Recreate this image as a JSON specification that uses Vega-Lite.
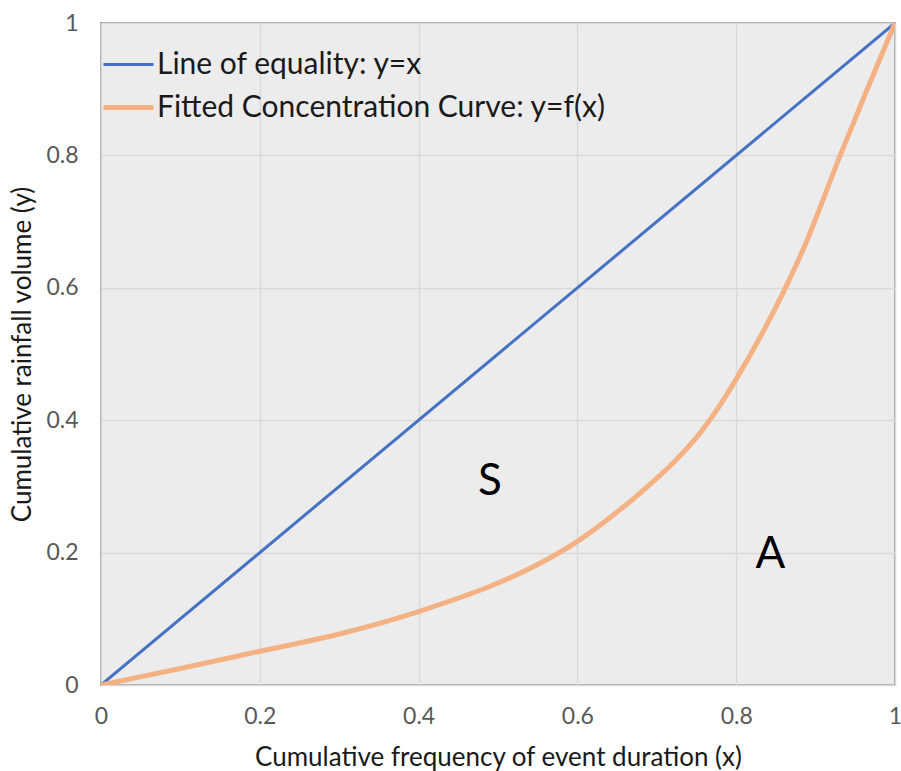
{
  "$schema": "https://vega.github.io/schema/vega-lite/v6.json",
  "width": 794,
  "height": 662,
  "autosize": "none",
  "padding": {"left": 101, "top": 23, "right": 6, "bottom": 86},
  "background": "white",
  "config": {
    "font": "Lato",
    "view": {"fill": "#ececec", "stroke": "#a6a6a6", "strokeWidth": 2},
    "axis": {
      "grid": true,
      "gridColor": "#d9d9d9",
      "gridWidth": 1.5,
      "ticks": false,
      "domain": false,
      "labelColor": "#595959",
      "labelFontSize": 23,
      "labelOverlap": false,
      "labelFlush": false,
      "titleColor": "#1a1a1a",
      "titleFontSize": 26,
      "titleFontWeight": "normal",
      "format": "~g"
    },
    "axisX": {"labelPadding": 20, "titlePadding": 16},
    "axisY": {"labelPadding": 23, "titlePadding": 10}
  },
  "datasets": {
    "curves": [
      {"series": "Line of equality: y=x", "x": 0, "y": 0},
      {"series": "Line of equality: y=x", "x": 1, "y": 1},
      {"series": "Fitted Concentration Curve: y=f(x)", "x": 0, "y": 0},
      {"series": "Fitted Concentration Curve: y=f(x)", "x": 0.1, "y": 0.025},
      {"series": "Fitted Concentration Curve: y=f(x)", "x": 0.2, "y": 0.051},
      {"series": "Fitted Concentration Curve: y=f(x)", "x": 0.3, "y": 0.077},
      {"series": "Fitted Concentration Curve: y=f(x)", "x": 0.4, "y": 0.111},
      {"series": "Fitted Concentration Curve: y=f(x)", "x": 0.5, "y": 0.154},
      {"series": "Fitted Concentration Curve: y=f(x)", "x": 0.55, "y": 0.182},
      {"series": "Fitted Concentration Curve: y=f(x)", "x": 0.6, "y": 0.217},
      {"series": "Fitted Concentration Curve: y=f(x)", "x": 0.64, "y": 0.252},
      {"series": "Fitted Concentration Curve: y=f(x)", "x": 0.679, "y": 0.29},
      {"series": "Fitted Concentration Curve: y=f(x)", "x": 0.721, "y": 0.336},
      {"series": "Fitted Concentration Curve: y=f(x)", "x": 0.75, "y": 0.374},
      {"series": "Fitted Concentration Curve: y=f(x)", "x": 0.769, "y": 0.404},
      {"series": "Fitted Concentration Curve: y=f(x)", "x": 0.8, "y": 0.462},
      {"series": "Fitted Concentration Curve: y=f(x)", "x": 0.834, "y": 0.534},
      {"series": "Fitted Concentration Curve: y=f(x)", "x": 0.862, "y": 0.6},
      {"series": "Fitted Concentration Curve: y=f(x)", "x": 0.884, "y": 0.657},
      {"series": "Fitted Concentration Curve: y=f(x)", "x": 0.931, "y": 0.8},
      {"series": "Fitted Concentration Curve: y=f(x)", "x": 0.965, "y": 0.9},
      {"series": "Fitted Concentration Curve: y=f(x)", "x": 1, "y": 1}
    ],
    "labels": [
      {"label": "S", "x": 0.49, "y": 0.306},
      {"label": "A", "x": 0.843, "y": 0.197}
    ]
  },
  "layer": [
    {
      "data": {"name": "curves"},
      "mark": {"type": "line", "interpolate": "monotone", "clip": true},
      "encoding": {
        "x": {"field": "x", "type": "quantitative", "scale": {"domain": [0, 1]}, "axis": {"title": "Cumulative frequency of event duration (x)", "values": [0, 0.2, 0.4, 0.6, 0.8, 1]}},
        "y": {"field": "y", "type": "quantitative", "scale": {"domain": [0, 1]}, "axis": {"title": "Cumulative  rainfall volume (y)", "values": [0, 0.2, 0.4, 0.6, 0.8, 1]}},
        "color": {
          "field": "series",
          "type": "nominal",
          "sort": ["Line of equality: y=x", "Fitted Concentration Curve: y=f(x)"],
          "scale": {"domain": ["Line of equality: y=x", "Fitted Concentration Curve: y=f(x)"], "range": ["#4472c4", "#f4b183"]},
          "legend": {
            "title": null,
            "orient": "none",
            "legendX": 0,
            "legendY": 15,
            "padding": 0,
            "symbolType": "stroke",
            "symbolSize": 2500,
            "labelFontSize": 30,
            "labelColor": "#1a1a1a",
            "labelOffset": 1,
            "labelLimit": 700,
            "rowPadding": -11
          }
        },
        "strokeWidth": {
          "field": "series",
          "type": "nominal",
          "sort": ["Line of equality: y=x", "Fitted Concentration Curve: y=f(x)"],
          "scale": {"domain": ["Line of equality: y=x", "Fitted Concentration Curve: y=f(x)"], "range": [3, 5]},
          "legend": null
        }
      }
    },
    {
      "data": {"name": "labels"},
      "mark": {"type": "text", "fontSize": 44, "color": "#000000"},
      "encoding": {
        "x": {"field": "x", "type": "quantitative"},
        "y": {"field": "y", "type": "quantitative"},
        "text": {"field": "label"}
      }
    }
  ]
}
